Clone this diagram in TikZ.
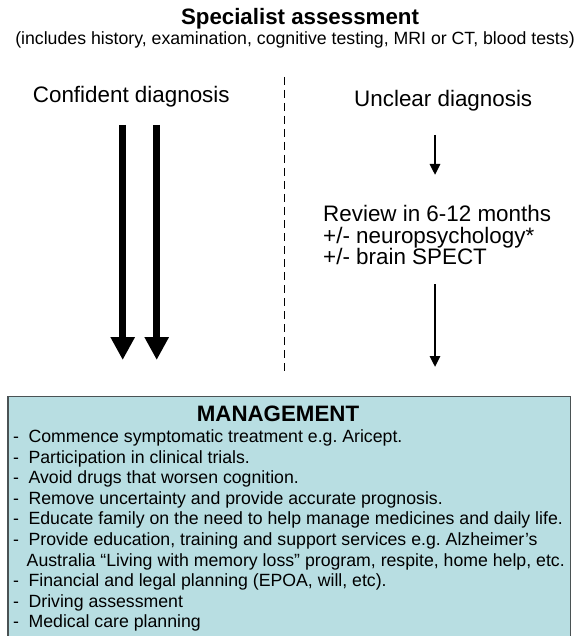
\documentclass[tikz,border=0pt]{standalone}
\usepackage{fontspec}
\setmainfont{Liberation Sans}
\usetikzlibrary{arrows.meta}
\definecolor{boxfill}{HTML}{B8DEE2}
\definecolor{boxline}{HTML}{4A5254}
\frenchspacing
\begin{document}
\begin{tikzpicture}[x=1pt,y=-1pt,
  bigtxt/.style={font=\fontsize{22.4}{26}\selectfont, inner sep=0pt, anchor=base west},
  bigbold/.style={font=\fontsize{22.3}{26}\bfseries\selectfont, inner sep=0pt, anchor=base},
  subtxt/.style={font=\fontsize{17.7}{20}\selectfont, inner sep=0pt, anchor=base},
  itemtxt/.style={font=\fontsize{17.7}{20}\selectfont, inner sep=0pt, anchor=base west},
  fatarrow/.style={line width=7.5pt, -{Triangle[width=23pt,length=23pt]}},
  thinarrow/.style={line width=2.6pt, -{Triangle[width=10pt,length=11pt]}},
  divider/.style={line width=0.9pt, dash pattern=on 8pt off 5pt},
  mgmtbox/.style={draw=boxline, fill=boxfill, line width=1.3pt, inner sep=0pt, anchor=north west}
]
\useasboundingbox (0,0) rectangle (579,636);
\fill[white] (0,0) rectangle (579,636);

% headings
\node[bigbold] (title) at (300,25) {Specialist assessment};
\node[subtxt] (sub) at (295,45) {(includes history, examination, cognitive testing, MRI or CT, blood tests)};

% columns
\node[bigtxt] (conf) at (32.7,103) {Confident diagnosis};
\node[bigtxt] (uncl) at (354,107) {Unclear diagnosis};

% divider
\coordinate (dtop) at (284,77);
\coordinate (dbot) at (284,374);
\draw[divider] (dtop) -- (dbot);

% review text
\node[bigtxt] (rev1) at (323,222) {Review in 6-12 months};
\node[bigtxt] (rev2) at (323,243.3) {+/- neuropsychology*};
\node[bigtxt] (rev3) at (323,264.6) {+/- brain SPECT};

% management box
\node[mgmtbox, minimum width=562.7pt, minimum height=260pt] (mgmt) at (7.3,396) {};
\node[bigbold] (mtitle) at (278,421) {MANAGEMENT};
\node[itemtxt] (m1) at (13,442.5) {-\hspace{9.5pt}Commence symptomatic treatment e.g. Aricept.};
\node[itemtxt] (m2) at (13,463.1) {-\hspace{9.5pt}Participation in clinical trials.};
\node[itemtxt] (m3) at (13,483.7) {-\hspace{9.5pt}Avoid drugs that worsen cognition.};
\node[itemtxt] (m4) at (13,504.3) {-\hspace{9.5pt}Remove uncertainty and provide accurate prognosis.};
\node[itemtxt] (m5) at (13,524.9) {-\hspace{9.5pt}Educate family on the need to help manage medicines and daily life.};
\node[itemtxt] (m6) at (13,545.5) {-\hspace{9.5pt}Provide education, training and support services e.g. Alzheimer’s};
\node[itemtxt] (m6b) at (26.5,566.1) {Australia “Living with memory loss” program, respite, home help, etc.};
\node[itemtxt] (m7) at (13,586.7) {-\hspace{9.5pt}Financial and legal planning (EPOA, will, etc).};
\node[itemtxt] (m8) at (13,607.3) {-\hspace{9.5pt}Driving assessment};
\node[itemtxt] (m9) at (13,627.9) {-\hspace{9.5pt}Medical care planning};

% arrows
\coordinate (a1s) at (122.7,125);
\coordinate (a1e) at (122.7,360);
\coordinate (a2s) at (156.7,125);
\coordinate (a2e) at (156.7,360);
\draw[fatarrow] (a1s) -- (a1e);
\draw[fatarrow] (a2s) -- (a2e);

\coordinate (b1s) at (435,135);
\coordinate (b1e) at (435,175);
\coordinate (b2s) at (435,284);
\coordinate (b2e) at (435,367);
\draw[thinarrow] (b1s) -- (b1e);
\draw[thinarrow] (b2s) -- (b2e);
\end{tikzpicture}
\end{document}
